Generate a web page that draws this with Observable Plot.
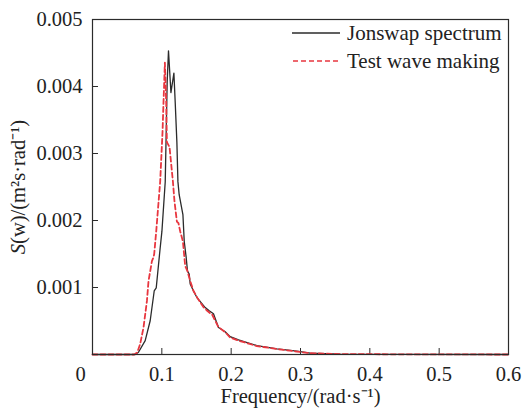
<!DOCTYPE html>
<html>
<head>
<meta charset="utf-8">
<script src="https://cdn.jsdelivr.net/npm/d3@7"></script>
<script src="https://cdn.jsdelivr.net/npm/@observablehq/plot@0.6"></script>
<style>
  body { margin: 0; background: #fff; }
  #wrap { position: relative; width: 522px; height: 411px; font-family: "Liberation Serif", "Times New Roman", serif; }
  #wrap svg, #wrap svg g, #wrap svg text, #wrap svg tspan { font-family: "Liberation Serif", "Times New Roman", serif !important; font-size: 20.5px !important; font-variant: normal !important; font-variant-numeric: normal !important; }
  #wrap svg tspan.it { font-style: italic !important; }
  #legend { position: absolute; left: 292px; top: 19px; font-size: 21px; color: #222; }
  #legend .row { display: flex; align-items: center; height: 28px; }
  #legend svg { width: 48px; height: 10px; margin-right: 7px; }
</style>
</head>
<body>
<div id="wrap"></div>
<script>
// Data
const seriesNames = ["Jonswap spectrum", "Test wave making"];
const jonswapFreq = [0, 0.06, 0.0616, 0.0663, 0.076, 0.0832, 0.089, 0.0919, 0.0976, 0.1001, 0.1049, 0.1063, 0.1077, 0.1096, 0.1131, 0.1174, 0.1193, 0.1217, 0.1232, 0.125, 0.1304, 0.1323, 0.1352, 0.137, 0.1395, 0.1409, 0.1457, 0.151, 0.1626, 0.1683, 0.1745, 0.1817, 0.1914, 0.1986, 0.2106, 0.2371, 0.266, 0.2948, 0.314, 0.357, 0.45, 0.6];
const jonswapS = [0, 0, 0, 0.000034, 0.000207, 0.000504, 0.000948, 0.000993, 0.00159, 0.001837, 0.002578, 0.003319, 0.00406, 0.004533, 0.00391, 0.0042, 0.00376, 0.00317, 0.00258, 0.002385, 0.002089, 0.001689, 0.001441, 0.001244, 0.0012, 0.001052, 0.000948, 0.000844, 0.0007, 0.000652, 0.000607, 0.000404, 0.00034, 0.000267, 0.000218, 0.000133, 0.0000844, 0.0000489, 0.000022, 0.000007, 0.000003, 0];
const testFreq = [0, 0.06, 0.0616, 0.0645, 0.0688, 0.0736, 0.0785, 0.0808, 0.0857, 0.088, 0.089, 0.0919, 0.0976, 0.101, 0.1024, 0.1044, 0.1063, 0.1073, 0.1111, 0.116, 0.1183, 0.1217, 0.124, 0.1265, 0.1304, 0.1337, 0.137, 0.1409, 0.1457, 0.151, 0.1597, 0.1654, 0.1727, 0.1813, 0.1914, 0.1986, 0.2106, 0.2371, 0.266, 0.2948, 0.314, 0.357, 0.45, 0.6];
const testS = [0, 0, 0.00001, 0.00003, 0.000159, 0.000404, 0.0008, 0.001096, 0.001393, 0.001452, 0.0015, 0.001837, 0.002578, 0.003319, 0.00376, 0.004356, 0.00376, 0.00317, 0.003096, 0.002578, 0.00228, 0.001985, 0.00196, 0.001837, 0.001689, 0.001319, 0.001244, 0.001096, 0.000948, 0.000849, 0.000711, 0.000652, 0.000593, 0.000415, 0.000333, 0.000252, 0.000207, 0.000126, 0.0000815, 0.0000444, 0.000019, 0.000007, 0.000002, 0];
const xTicks = [0.1, 0.2, 0.3, 0.4, 0.5, 0.6];
const xTickLabels = ["0.1", "0.2", "0.3", "0.4", "0.5", "0.6"];
const yTicks = [0.001, 0.002, 0.003, 0.004, 0.005];
const yTickLabels = ["0.001", "0.002", "0.003", "0.004", "0.005"];
const originLabel = "0";
const xLabel = "Frequency/(rad·s⁻¹)";
const yLabel = "S(w)/(m²s·rad⁻¹)";

const jonswap = jonswapFreq.map((f, i) => ({f, s: jonswapS[i]}));
const test = testFreq.map((f, i) => ({f, s: testS[i]}));

const black = "#2b2b2b";
const red = "#e8363f";

const plot = Plot.plot({
  width: 522,
  height: 411,
  marginTop: 19,
  marginBottom: 57,
  marginLeft: 92,
  marginRight: 14,
  style: {fontFamily: "'Liberation Serif', 'Times New Roman', serif", fontSize: "20.5px", color: "#222", background: "#fff"},
  x: {domain: [0, 0.6]},
  y: {domain: [0, 0.005]},
  marks: [
    // inward ticks
    Plot.axisX({ticks: xTicks, tickSize: -6, tickFormat: () => "", label: null, stroke: black}),
    Plot.axisY({ticks: yTicks, tickSize: -6, tickFormat: () => "", label: null, stroke: black}),
    // tick labels
    Plot.axisX({ticks: xTicks, tickSize: 0, tickPadding: 12, tickFormat: (d) => xTickLabels[xTicks.indexOf(d)], label: xLabel, labelArrow: "none", labelAnchor: "center", labelOffset: 48, fill: "#222", fontVariant: "normal"}),
    Plot.axisX({ticks: [0], tickSize: 0, tickPadding: 12, tickFormat: () => originLabel, dx: -12, label: null, fill: "#222", fontVariant: "normal"}),
    Plot.axisY({ticks: yTicks, tickSize: 0, tickPadding: 10, tickFormat: (d) => yTickLabels[yTicks.indexOf(d)], label: yLabel, labelArrow: "none", labelAnchor: "center", labelOffset: 82, fill: "#222", fontVariant: "normal"}),
    Plot.line(jonswap, {x: "f", y: "s", stroke: black, strokeWidth: 1.3}),
    Plot.line(test, {x: "f", y: "s", stroke: red, strokeWidth: 1.8, strokeDasharray: "5,3"}),
    Plot.frame({stroke: black, strokeWidth: 1.2})
  ]
});

// italic S in the y-axis label
const ns = "http://www.w3.org/2000/svg";
plot.querySelectorAll("text").forEach((el) => {
  el.removeAttribute("font-variant");
  el.style.fontVariant = "normal";
  if (el.textContent.startsWith("S(w)")) {
    while (el.firstChild) el.removeChild(el.firstChild);
    const t1 = document.createElementNS(ns, "tspan");
    t1.setAttribute("class", "it");
    t1.setAttribute("font-style", "italic");
    t1.textContent = yLabel.slice(0, 1);
    const t2 = document.createElementNS(ns, "tspan");
    t2.textContent = yLabel.slice(1);
    el.appendChild(t1);
    el.appendChild(t2);
  }
});
plot.querySelectorAll("g").forEach((g) => { g.removeAttribute("font-variant"); });

const wrap = document.getElementById("wrap");
wrap.appendChild(plot);

const legend = document.createElement("div");
legend.id = "legend";
legend.innerHTML =
  `<div class="row"><svg><line x1="0" x2="48" y1="5" y2="5" stroke="${black}" stroke-width="1.3"/></svg><span>${seriesNames[0]}</span></div>` +
  `<div class="row"><svg><line x1="1" x2="48" y1="5" y2="5" stroke="${red}" stroke-width="1.3" stroke-dasharray="5,3"/></svg><span>${seriesNames[1]}</span></div>`;
wrap.appendChild(legend);
</script>
</body>
</html>
